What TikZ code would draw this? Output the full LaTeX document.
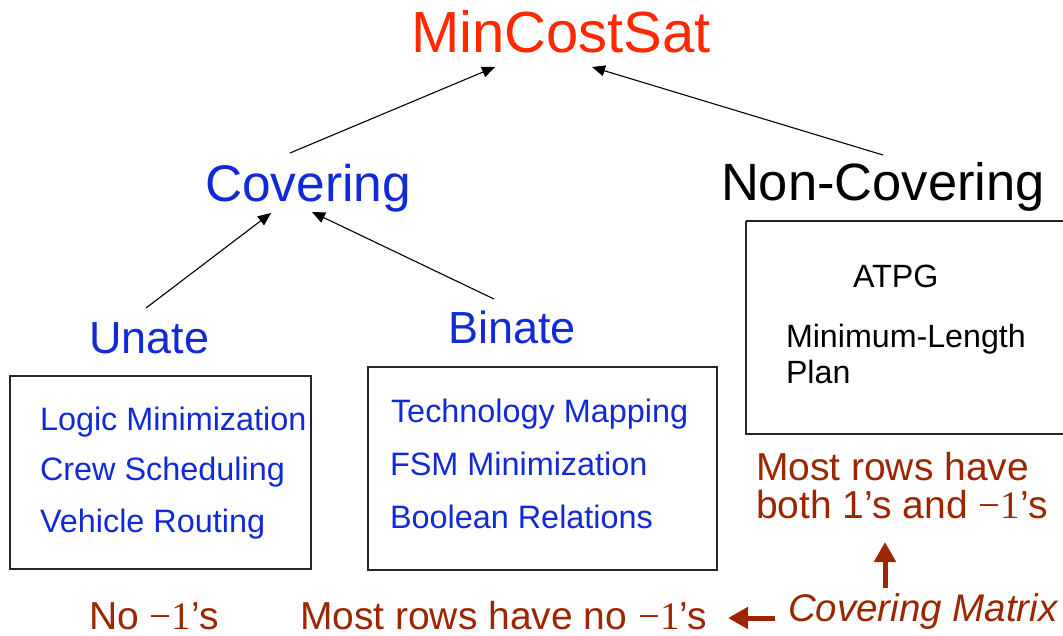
\documentclass[tikz,border=0pt]{standalone}
\usepackage{fontspec}
\setmainfont{Liberation Sans}
\newfontfamily\numserif{Liberation Serif}
\usetikzlibrary{arrows.meta}

\definecolor{topred}{RGB}{255,40,0}
\definecolor{catblue}{RGB}{18,42,214}
\definecolor{notebrown}{RGB}{155,38,0}

% a Times-style "-1" as used in the notes
\newcommand{\mone}{{\numserif\char"2212 1}}

\begin{document}
\begin{tikzpicture}[x=1pt,y=-1pt,
  txt/.style={anchor=base west,inner sep=0pt,outer sep=0pt},
  fs/.style={font=\fontsize{#1}{#1}\selectfont},
  title/.style={txt,fs=58,text=topred},
  cat/.style={txt,fs=51.5,text=catblue},
  sub/.style={txt,fs=45,text=catblue},
  item/.style={txt,fs=32.4,text=catblue},
  blackitem/.style={txt,fs=32.2,text=black},
  note/.style={txt,fs=39,text=notebrown},
  framebox/.style={draw=black!85,line width=1.1pt},
  link/.style={draw=black,line width=1.1pt,-{Triangle[length=13pt,width=11pt]}},
  pointer/.style={draw=notebrown,line width=5pt,-{Triangle[length=20pt,width=21pt]}}
]
\useasboundingbox (0,0) rectangle (1063,635);

% headings
\node[title] (mcs) at (411,52) {MinCostSat};
\node[cat] (cov) at (205,201) {Covering};
\node[cat,fs=52.5,text=black] (ncov) at (721,200) {Non-Covering};
\node[sub] (un) at (89,353) {Unate};
\node[sub] (bi) at (448,343) {Binate};

% category boxes
\draw[framebox] (10,376) rectangle (311,569);
\draw[framebox] (368,367) rectangle (717,570);
\draw[framebox] (746,221) -- (1070,221) (746,221) -- (746,434) -- (1070,434);

% box contents
\node[item] (lm) at (40,430) {Logic Minimization};
\node[item] (cs) at (40,480) {Crew Scheduling};
\node[item] (vr) at (40,532) {Vehicle Routing};
\node[item] (tm) at (391,422) {Technology Mapping};
\node[item] (fsm) at (390,475) {FSM Minimization};
\node[item] (br) at (390,528) {Boolean Relations};
\node[blackitem] (atpg) at (853,287) {ATPG};
\node[blackitem] (mlp1) at (786,347) {Minimum-Length};
\node[blackitem] (mlp2) at (786,383) {Plan};

% notes
\node[note] (most1) at (756,480) {Most rows have};
\node[note] (most2) at (756,518) {both 1’s and \mone’s};
\node[note] (none) at (89,629) {No \mone’s};
\node[note] (mostno) at (300,629) {Most rows have no \mone’s};
\node[note,font=\fontsize{38.5}{38.5}\selectfont\itshape] (cm) at (788,621) {Covering Matrix};

% hierarchy links
\draw[link] ([shift={(85,-48)}]cov.base west) -- ([shift={(84,15)}]mcs.base west);
\draw[link] ([shift={(162,-45)}]ncov.base west) -- ([shift={(181,15)}]mcs.base west);
\draw[link] ([shift={(57,-45)}]un.base west) -- ([shift={(66,12)}]cov.base west);
\draw[link] ([shift={(46,-44)}]bi.base west) -- ([shift={(107,11)}]cov.base west);

% covering matrix pointers
\draw[pointer] ([shift={(97,-33)}]cm.base west) -- ([shift={(129,24)}]most2.base west);
\draw[pointer] ([shift={(-13,-3)}]cm.base west) -- ([shift={(428,-11)}]mostno.base west);
\end{tikzpicture}
\end{document}
